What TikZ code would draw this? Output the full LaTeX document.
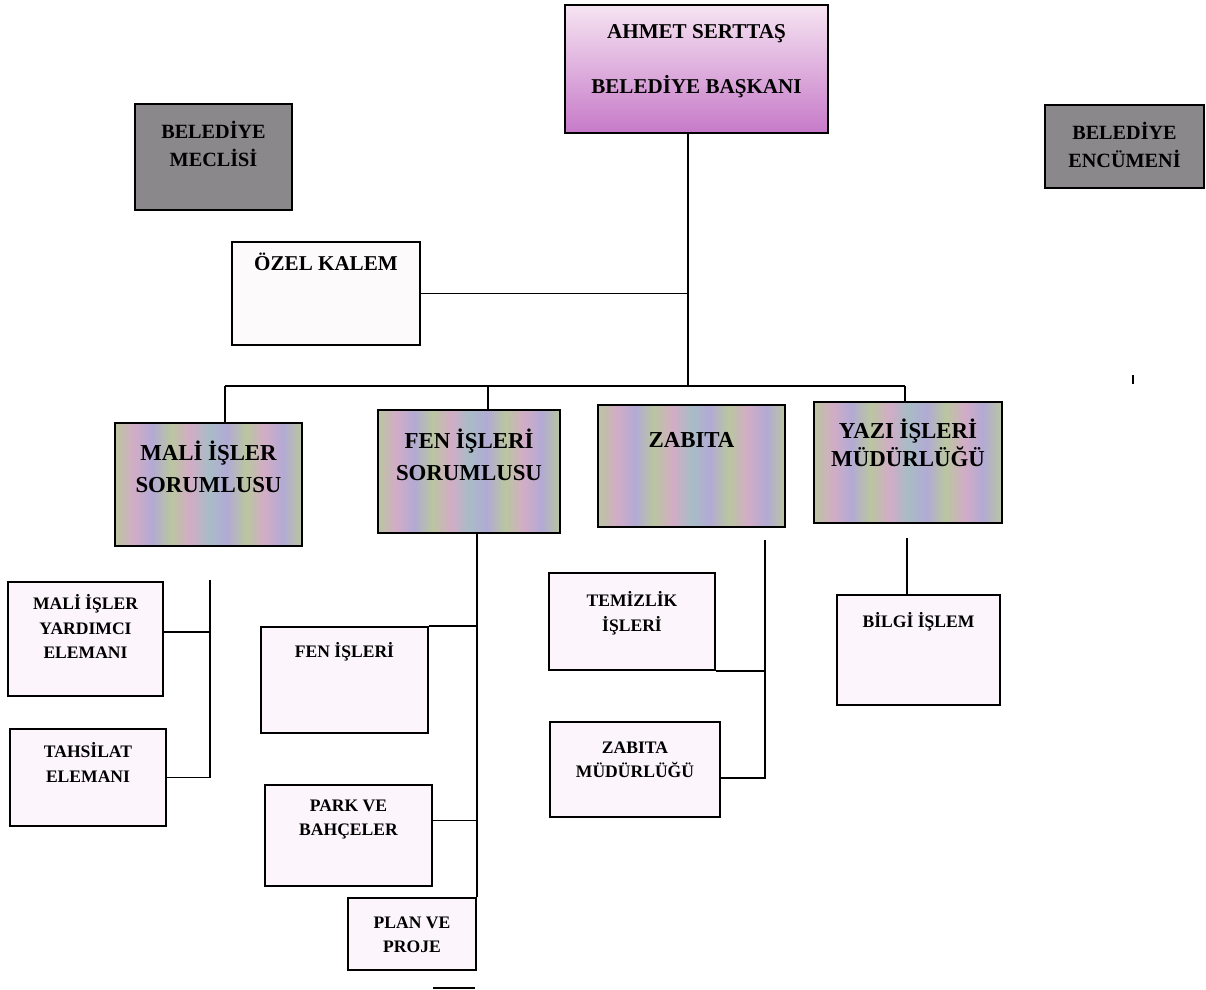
\documentclass[tikz,border=0pt]{standalone}
\usepackage{fontspec}
\setmainfont{Liberation Serif}
\usepackage{xcolor}
\usepackage{tikz}
\definecolor{boxgray}{RGB}{138,136,138}
\definecolor{subpink}{RGB}{252,245,251}
\definecolor{ozelpink}{RGB}{253,250,252}
\definecolor{headtop}{RGB}{246,228,242}
\definecolor{headmid}{RGB}{230,190,228}
\definecolor{headbot}{RGB}{198,122,200}
\definecolor{stA}{RGB}{186,198,160}
\definecolor{stB}{RGB}{210,172,198}
\definecolor{stC}{RGB}{178,170,212}
\definecolor{stD}{RGB}{168,188,198}
\pgfdeclarehorizontalshading{stripes}{100bp}{color(0bp)=(stA); color(25bp)=(stA); color(30bp)=(stB); color(35bp)=(stC); color(40bp)=(stA); color(45bp)=(stB); color(50bp)=(stD); color(55bp)=(stC); color(60bp)=(stA); color(65bp)=(stB); color(70bp)=(stC); color(75bp)=(stA); color(100bp)=(stA)}

\begin{document}
\begin{tikzpicture}[
      type-head/.style={rectangle, draw, line width=1pt, top color=headtop, middle color=headmid, bottom color=headbot},
      type-gray/.style={rectangle, draw, line width=1pt, fill=boxgray},
      type-unit/.style={rectangle, draw, line width=1.2pt, shading=stripes},
      type-sub/.style={rectangle, draw, line width=1pt, fill=subpink},
      head-text/.style={anchor=north, align=center, inner sep=0pt, font=\fontsize{12}{14.4}\selectfont\bfseries},
      gray-text/.style={anchor=north, align=center, inner sep=0pt, font=\fontsize{11.5}{16}\selectfont\bfseries},
      unit-text/.style={anchor=north, align=center, inner sep=0pt, font=\fontsize{13}{18}\selectfont\bfseries},
      sub-text/.style={anchor=north, align=center, inner sep=0pt, font=\fontsize{10}{14}\selectfont\bfseries},
      link/.style={line width=1.1pt}
    ]
      \useasboundingbox (0,0) rectangle (24.12,-19.80);
      \node[type-head, minimum width=5.26cm, minimum height=2.56cm,
        label={[head-text, yshift=-4mm]north:AHMET SERTTAŞ\\[17pt]BELEDİYE BAŞKANI}] (baskan) at (13.93,-1.38) {};
      \node[type-gray, minimum width=3.14cm, minimum height=2.12cm,
        label={[gray-text, yshift=-3.6mm]north:BELEDİYE\\MECLİSİ}] (meclis) at (4.27,-3.14) {};
      \node[type-gray, minimum width=3.18cm, minimum height=1.66cm,
        label={[gray-text, yshift=-3.6mm]north:BELEDİYE\\ENCÜMENİ}] (encumen) at (22.49,-2.93) {};
      \node[rectangle, draw, line width=1pt, fill=ozelpink, minimum width=3.76cm, minimum height=2.06cm,
        label={[head-text, yshift=-2.2mm]north:ÖZEL KALEM}] (ozel) at (6.52,-5.87) {};

      \node[type-unit, minimum width=3.74cm, minimum height=2.46cm,
        label={[unit-text, yshift=-3.8mm]north:MALİ İŞLER\\SORUMLUSU}] (malis) at (4.17,-9.69) {};
      \node[type-unit, minimum width=3.64cm, minimum height=2.46cm,
        label={[unit-text, yshift=-4mm]north:FEN İŞLERİ\\SORUMLUSU}] (fens) at (9.38,-9.43) {};
      \node[type-unit, minimum width=3.74cm, minimum height=2.44cm,
        label={[unit-text, yshift=-5.6mm]north:ZABITA}] (zabita) at (13.83,-9.32) {};
      \node[type-unit, minimum width=3.76cm, minimum height=2.42cm,
        label={[unit-text, yshift=-3.6mm]north:YAZI İŞLERİ\\[-2pt]MÜDÜRLÜĞÜ}] (yazi) at (18.16,-9.25) {};

      \node[type-sub, minimum width=3.10cm, minimum height=2.28cm,
        label={[sub-text, yshift=-2.6mm]north:MALİ İŞLER\\YARDIMCI\\ELEMANI}] (maliy) at (1.71,-12.78) {};
      \node[type-sub, minimum width=3.12cm, minimum height=1.94cm,
        label={[sub-text, yshift=-2.8mm]north:TAHSİLAT\\ELEMANI}] (tahsilat) at (1.76,-15.55) {};
      \node[type-sub, minimum width=3.34cm, minimum height=2.12cm,
        label={[sub-text, yshift=-3.2mm]north:FEN İŞLERİ}] (feni) at (6.89,-13.60) {};
      \node[type-sub, minimum width=3.34cm, minimum height=2.02cm,
        label={[sub-text, yshift=-3mm]north:PARK VE\\BAHÇELER}] (park) at (6.97,-16.71) {};
      \node[type-sub, minimum width=2.56cm, minimum height=1.44cm,
        label={[sub-text, yshift=-3.8mm]north:PLAN VE\\PROJE}] (plan) at (8.24,-18.68) {};
      \node[type-sub, minimum width=3.32cm, minimum height=1.94cm,
        label={[sub-text, yshift=-3.8mm]north:TEMİZLİK\\İŞLERİ}] (temizlik) at (12.64,-12.43) {};
      \node[type-sub, minimum width=3.40cm, minimum height=1.90cm,
        label={[sub-text, yshift=-4mm]north:ZABITA\\MÜDÜRLÜĞÜ}] (zabm) at (12.70,-15.39) {};
      \node[type-sub, minimum width=3.26cm, minimum height=2.20cm,
        label={[sub-text, yshift=-3.6mm]north:BİLGİ İŞLEM}] (bilgi) at (18.37,-13.00) {};

      \coordinate (trunk) at (13.76,-7.72);
      \coordinate (busl) at (4.50,-7.72);
      \coordinate (busf) at (9.76,-7.72);
      \coordinate (busr) at (18.10,-7.72);
      \coordinate (malitop) at (4.20,-11.60);
      \coordinate (zabtop) at (15.30,-10.80);
      \coordinate (yazibot) at (18.14,-10.76);

      \draw[link] (baskan.south -| trunk) -- (trunk);
      \draw[link] (ozel.east) -- (ozel.east -| trunk);
      \draw[link] (busl) -- (busr);
      \draw[link] (busl) -- (busl |- malis.north);
      \draw[link] (busf) -- (busf |- fens.north);
      \draw[link] (busr) -- (busr |- yazi.north);

      \draw[link] (malitop) -- (malitop |- tahsilat.east) -- (tahsilat.east);
      \draw[link] ([yshift=1.4mm]maliy.east) -- ([yshift=1.4mm]maliy.east -| malitop);

      \draw[link] (fens.south -| plan.north east) -- (plan.north east);
      \draw[link] (feni.north east) -- (feni.north east -| plan.north east);
      \draw[link] ([yshift=3mm]park.east) -- ([yshift=3mm]park.east -| plan.north east);
      \draw[link] (8.66,-19.76) -- (9.50,-19.76);

      \draw[link] (zabtop) |- ([yshift=-1.7mm]zabm.east);
      \draw[link] (temizlik.south east) -- (temizlik.south east -| zabtop);

      \draw[link] (yazibot) -- (yazibot |- bilgi.north);
      \draw[line width=1.2pt] (22.66,-7.50) -- (22.66,-7.68);
    \end{tikzpicture}
\end{document}
